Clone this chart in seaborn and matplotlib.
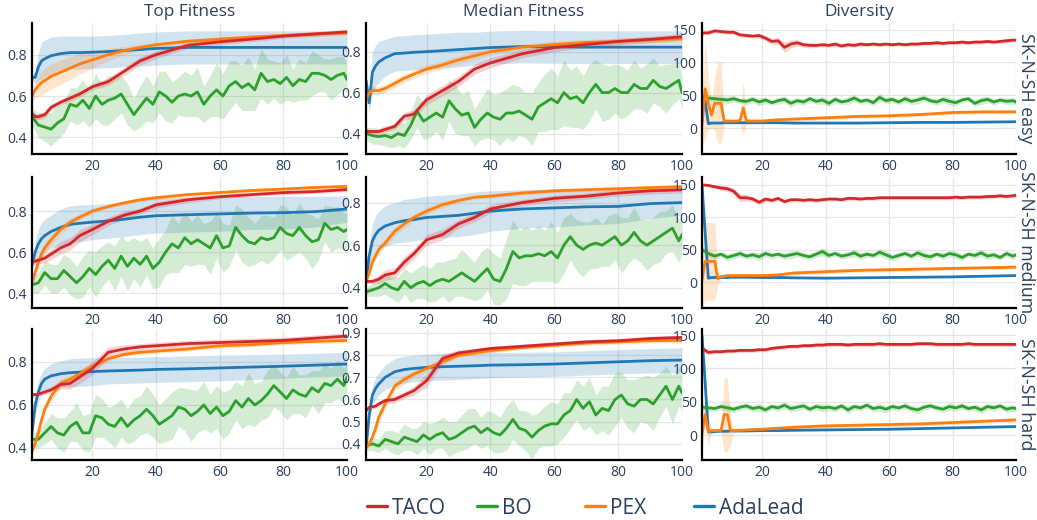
import matplotlib
matplotlib.use("Agg")
import matplotlib.pyplot as plt
import seaborn as sns
import pandas as pd
from matplotlib.lines import Line2D

# ---- labels / categories ----
METRICS = ["Top Fitness", "Median Fitness", "Diversity"]
LEVELS = ["easy", "medium", "hard"]
CELL_LINE = "SK-N-SH"
LEGEND_ORDER = ["TACO", "BO", "PEX", "AdaLead"]
DRAW_ORDER = ["AdaLead", "BO", "PEX", "TACO"]
COLORS = {"TACO": "#d62728", "BO": "#2ca02c", "PEX": "#ff7f0e", "AdaLead": "#1f77b4"}

# generation grids the values were read at
GEN_SMOOTH = [1, 2, 3, 4, 5, 7, 10, 13, 16, 20, 25, 30, 35, 40, 50, 60, 70, 80, 90, 100]
GEN_NOISY = list(range(1, 100, 2)) + [100]
GEN_DIV = [1, 2, 3, 4, 5, 6, 7, 8, 9, 10, 11, 12, 13, 14, 15, 20, 25, 30, 40, 50, 60, 70, 80, 90, 100]

# ---- Top Fitness, easy ----
top_easy_taco = [.515, .50, .50, .505, .51, .545, .57, .59, .61, .645, .67, .72, .77, .80, .845, .862, .875, .89, .90, .91]
top_easy_taco_sd = [.015, .015, .015, .015, .015, .015, .015, .015, .015, .015, .018, .02, .02, .018, .015, .015, .012, .012, .012, .012]
top_easy_pex = [.60, .63, .65, .665, .675, .695, .715, .735, .755, .775, .80, .82, .835, .848, .865, .875, .885, .893, .90, .905]
top_easy_pex_sd = [.03, .04, .05, .055, .06, .06, .06, .055, .05, .04, .03, .02, .015, .01, .01, .01, .01, .01, .01, .01]
top_easy_ada = [.69, .69, .74, .77, .78, .795, .805, .81, .81, .812, .815, .82, .825, .83, .835, .835, .835, .835, .835, .835]
top_easy_ada_sd = [.01, .03, .07, .09, .09, .09, .085, .08, .08, .078, .078, .078, .08, .08, .08, .08, .08, .08, .08, .08]
top_easy_bo = [.50, .46, .45, .44, .47, .49, .56, .55, .58, .54,
               .60, .56, .58, .59, .61, .56, .51, .55, .59, .56,
               .62, .60, .57, .60, .61, .60, .62, .56, .60, .63,
               .60, .65, .67, .64, .66, .63, .71, .67, .68, .66,
               .69, .65, .68, .67, .71, .71, .70, .68, .70, .71, .68]
top_easy_bo_sd = [.04, .06, .07, .08, .08, .07, .08, .09, .10, .09,
                  .11, .10, .12, .10, .09, .10, .08, .10, .11, .09,
                  .10, .12, .10, .09, .11, .10, .12, .09, .10, .13,
                  .11, .12, .10, .11, .13, .10, .12, .11, .09, .10,
                  .11, .08, .10, .09, .11, .09, .08, .10, .09, .08, .07]

# ---- Median Fitness, easy ----
med_easy_taco = [.413, .41, .41, .41, .41, .42, .435, .485, .495, .565, .61, .655, .715, .745, .79, .82, .835, .85, .86, .873]
med_easy_taco_sd = [.01, .01, .01, .01, .01, .012, .015, .02, .02, .025, .025, .025, .025, .025, .02, .02, .015, .015, .015, .015]
med_easy_pex = [.565, .60, .61, .61, .61, .62, .645, .67, .69, .715, .735, .76, .78, .80, .822, .835, .845, .85, .858, .863]
med_easy_pex_sd = [.03, .025, .02, .02, .02, .02, .02, .02, .02, .02, .02, .02, .02, .015, .015, .015, .015, .015, .015, .015]
med_easy_ada = [.66, .55, .70, .73, .75, .77, .79, .793, .797, .80, .805, .81, .815, .82, .825, .823, .822, .822, .822, .822]
med_easy_ada_sd = [.02, .05, .10, .10, .10, .09, .085, .085, .085, .085, .085, .085, .08, .08, .08, .08, .08, .08, .08, .08]
med_easy_bo = [.40, .39, .385, .39, .38, .40, .39, .44, .51, .46,
               .48, .50, .48, .56, .52, .49, .50, .43, .47, .50,
               .48, .47, .50, .50, .51, .49, .47, .53, .55, .57,
               .55, .60, .57, .58, .55, .60, .64, .60, .60, .62,
               .60, .60, .64, .62, .62, .66, .63, .62, .64, .66, .60]
med_easy_bo_sd = [.03, .04, .04, .05, .05, .06, .06, .07, .08, .09,
                  .10, .09, .11, .10, .12, .10, .11, .09, .10, .12,
                  .11, .13, .12, .14, .12, .11, .13, .12, .14, .15,
                  .13, .16, .14, .15, .13, .14, .12, .14, .13, .12,
                  .13, .11, .12, .10, .12, .11, .10, .12, .10, .09, .08]

# ---- Diversity, easy ----
div_easy_taco = [145, 145, 148, 147, 146, 146, 142, 141, 140, 141,
                 137, 132, 133, 123, 128, 130, 127, 126, 126, 127,
                 126, 128, 125, 127, 126, 128, 127, 128, 127, 128,
                 127, 128, 127, 128, 128, 129, 129, 130, 129, 130,
                 130, 131, 130, 131, 131, 132, 131, 132, 133, 134, 134]
div_easy_taco_sd = [3, 3, 3, 3, 3, 3, 3, 3, 3, 4,
                    4, 5, 5, 8, 6, 5, 4, 4, 3, 3,
                    3, 3, 3, 3, 3, 3, 3, 3, 3, 3,
                    3, 3, 3, 3, 3, 3, 3, 3, 3, 3,
                    3, 3, 3, 3, 3, 3, 3, 3, 3, 3, 3]
div_easy_bo = [49, 46, 45, 44, 43, 45, 42, 41, 44, 40,
               43, 39, 42, 44, 38, 42, 40, 45, 41, 43,
               38, 44, 40, 42, 46, 41, 43, 39, 47, 42,
               44, 40, 45, 41, 43, 46, 42, 40, 44, 41,
               39, 43, 45, 38, 42, 44, 40, 43, 41, 42, 40]
div_easy_bo_sd = [5, 5, 4, 5, 6, 5, 4, 5, 5, 6,
                  5, 4, 5, 5, 6, 5, 5, 4, 5, 6,
                  5, 5, 4, 6, 5, 5, 4, 5, 6, 5,
                  5, 4, 5, 5, 6, 5, 4, 5, 5, 6,
                  5, 5, 4, 5, 6, 5, 5, 4, 5, 5, 4]
div_easy_pex = [4, 60, 38, 20, 38, 38, 38, 11, 11, 11, 11, 11, 12, 31, 11, 11, 13, 14, 16, 18, 19, 21, 24, 25, 25]
div_easy_pex_sd = [30, 75, 40, 20, 40, 62, 62, 5, 3, 3, 3, 3, 5, 40, 5, 3, 3, 3, 3, 3, 3, 3, 3, 3, 3]
div_easy_ada = [40, 41, 7, 8, 8, 8, 8, 8.5, 8.5, 8.5, 8.5, 8.5, 8.5, 8.5, 8.5, 8.5, 8.5, 8, 8, 8, 8.5, 9, 9, 9.5, 10]
div_easy_ada_sd = [2, 3, 2, 1, 1, 1, 1, 1, 1, 1, 1, 1, 1, 1, 1, 1, 1, 1, 1, 1, 1, 1, 1, 1, 1]

# ---- Top Fitness, medium ----
top_med_taco = [.555, .555, .56, .565, .57, .59, .62, .64, .68, .71, .75, .78, .80, .83, .855, .87, .88, .89, .895, .905]
top_med_taco_sd = [.015, .015, .015, .02, .02, .025, .03, .03, .03, .025, .02, .02, .015, .015, .015, .01, .01, .01, .01, .01]
top_med_pex = [.455, .50, .55, .59, .62, .66, .71, .745, .77, .80, .822, .84, .855, .865, .88, .89, .90, .907, .915, .92]
top_med_pex_sd = [.02, .03, .03, .03, .03, .025, .02, .02, .015, .01, .01, .01, .01, .01, .01, .01, .01, .01, .01, .01]
top_med_ada = [.54, .60, .64, .665, .68, .70, .72, .735, .74, .746, .752, .76, .77, .777, .782, .786, .79, .792, .797, .81]
top_med_ada_sd = [.02, .05, .07, .08, .08, .08, .09, .09, .09, .085, .085, .085, .085, .085, .085, .085, .08, .08, .075, .065]
top_med_bo = [.44, .45, .50, .47, .47, .51, .48, .45, .48, .52,
              .49, .53, .56, .52, .58, .53, .57, .54, .58, .52,
              .55, .60, .64, .62, .67, .64, .66, .64, .62, .68,
              .62, .63, .72, .68, .65, .64, .67, .66, .67, .72,
              .69, .68, .72, .68, .65, .66, .74, .71, .72, .70, .71]
top_med_bo_sd = [.04, .05, .06, .07, .07, .08, .09, .08, .10, .09,
                 .11, .10, .09, .11, .10, .12, .10, .11, .09, .10,
                 .12, .11, .14, .12, .13, .11, .12, .10, .13, .11,
                 .12, .10, .11, .13, .12, .10, .11, .12, .10, .11,
                 .13, .10, .12, .11, .13, .10, .09, .11, .10, .09, .08]

# ---- Median Fitness, medium ----
med_med_taco = [.43, .43, .43, .435, .44, .46, .47, .52, .56, .625, .65, .70, .73, .77, .80, .82, .83, .845, .855, .86]
med_med_taco_sd = [.01, .01, .012, .015, .02, .025, .025, .025, .025, .025, .025, .02, .02, .02, .015, .015, .015, .015, .015, .015]
med_med_pex = [.43, .47, .52, .55, .58, .61, .665, .70, .73, .76, .79, .81, .825, .83, .845, .855, .86, .865, .87, .875]
med_med_pex_sd = [.01, .02, .02, .02, .02, .02, .02, .02, .015, .015, .015, .01, .01, .01, .01, .01, .01, .01, .01, .01]
med_med_ada = [.43, .55, .62, .65, .67, .69, .705, .715, .72, .73, .735, .74, .75, .76, .77, .775, .78, .782, .795, .80]
med_med_ada_sd = [.02, .05, .08, .09, .09, .095, .095, .10, .10, .10, .10, .10, .10, .095, .09, .09, .085, .08, .07, .06]
med_med_bo = [.38, .39, .40, .42, .40, .39, .43, .40, .42, .43,
              .41, .43, .44, .43, .45, .47, .45, .43, .46, .49,
              .44, .43, .49, .57, .54, .55, .55, .56, .55, .57,
              .54, .60, .64, .60, .58, .60, .61, .60, .62, .64,
              .60, .62, .66, .62, .60, .62, .64, .66, .68, .62, .65]
med_med_bo_sd = [.02, .03, .04, .05, .05, .06, .06, .07, .07, .08,
                 .08, .09, .08, .10, .09, .11, .10, .09, .11, .10,
                 .12, .11, .14, .15, .13, .14, .12, .13, .12, .14,
                 .12, .13, .11, .12, .13, .11, .12, .10, .12, .11,
                 .13, .11, .12, .10, .12, .11, .12, .10, .11, .10, .09]

# ---- Diversity, medium ----
div_med_taco = [150, 149, 147, 145, 144, 140, 130, 130, 128, 123,
                128, 126, 129, 124, 127, 127, 126, 127, 126, 127,
                128, 128, 127, 129, 129, 128, 129, 129, 130, 130,
                130, 130, 130, 130, 130, 130, 130, 130, 130, 130,
                131, 130, 131, 131, 131, 132, 132, 133, 132, 133, 134]
div_med_taco_sd = [2, 2, 3, 4, 4, 5, 6, 5, 4, 4,
                   4, 3, 3, 3, 3, 3, 3, 3, 3, 3,
                   3, 3, 3, 3, 3, 3, 3, 3, 3, 3,
                   3, 3, 3, 3, 3, 3, 3, 3, 3, 3,
                   3, 3, 3, 3, 3, 3, 3, 3, 3, 3, 3]
div_med_bo = [50, 44, 40, 43, 38, 41, 44, 40, 42, 39,
              44, 41, 43, 40, 42, 44, 41, 39, 43, 47,
              41, 44, 40, 42, 45, 40, 43, 41, 46, 42,
              38, 41, 44, 40, 45, 41, 39, 43, 40, 44,
              42, 38, 43, 41, 45, 40, 42, 38, 44, 40, 42]
div_med_bo_sd = [5, 5, 5, 4, 6, 5, 5, 4, 5, 6,
                 5, 5, 4, 5, 6, 5, 4, 5, 5, 6,
                 5, 4, 5, 5, 6, 5, 5, 4, 5, 6,
                 5, 5, 4, 5, 5, 6, 5, 4, 5, 5,
                 6, 5, 4, 5, 5, 6, 5, 4, 5, 5, 4]
div_med_pex = [3, 32, 32, 32, 32, 5, 8, 9, 10, 10, 10, 10, 10, 10, 10, 10, 11, 14, 16, 18, 19, 20, 21, 22, 23]
div_med_pex_sd = [40, 60, 60, 60, 60, 10, 3, 3, 3, 3, 3, 3, 3, 3, 3, 3, 3, 3, 3, 3, 3, 3, 3, 3, 3]
div_med_ada = [150, 75, 6, 7, 7, 7, 7, 7, 7, 7.5, 7.5, 7.5, 7.5, 7.5, 7.5, 7, 7, 6.5, 6, 6.5, 7, 7.5, 8, 9, 10]
div_med_ada_sd = [1, 3, 1, 1, 1, 1, 1, 1, 1, 1, 1, 1, 1, 1, 1, 1, 1, 1, 1, 1, 1, 1, 1, 1, 1]

# ---- Top Fitness, hard ----
top_hard_taco = [.648, .648, .65, .655, .66, .67, .695, .70, .73, .77, .845, .86, .87, .875, .885, .89, .895, .90, .91, .92]
top_hard_taco_sd = [.01, .01, .01, .01, .012, .015, .02, .025, .03, .03, .025, .02, .015, .015, .015, .015, .015, .015, .015, .015]
top_hard_pex = [.385, .42, .47, .53, .58, .64, .70, .72, .745, .78, .815, .835, .845, .85, .86, .875, .88, .89, .895, .90]
top_hard_pex_sd = [.01, .015, .02, .02, .02, .02, .02, .02, .02, .015, .01, .01, .01, .01, .01, .01, .01, .01, .01, .01]
top_hard_ada = [.47, .60, .66, .70, .72, .735, .745, .75, .752, .755, .758, .76, .762, .765, .768, .772, .776, .78, .785, .79]
top_hard_ada_sd = [.02, .04, .05, .05, .05, .055, .06, .065, .065, .065, .06, .06, .06, .06, .06, .06, .058, .056, .055, .055]
top_hard_bo = [.44, .44, .47, .50, .47, .46, .50, .52, .47, .47,
               .55, .54, .51, .50, .54, .50, .53, .55, .58, .55,
               .51, .53, .55, .59, .58, .55, .57, .60, .56, .59,
               .55, .57, .62, .59, .63, .60, .62, .65, .69, .66,
               .63, .67, .65, .64, .68, .66, .70, .69, .72, .69, .73]
top_hard_bo_sd = [.03, .04, .05, .06, .07, .08, .07, .09, .08, .09,
                  .10, .09, .08, .10, .09, .08, .10, .09, .11, .10,
                  .09, .10, .11, .09, .10, .12, .10, .11, .09, .10,
                  .11, .10, .09, .10, .12, .10, .09, .11, .10, .09,
                  .10, .11, .09, .10, .08, .10, .09, .08, .09, .08, .07]

# ---- Median Fitness, hard ----
med_hard_taco = [.55, .565, .567, .57, .58, .595, .60, .62, .64, .685, .785, .81, .82, .83, .84, .85, .86, .865, .875, .88]
med_hard_taco_sd = [.01, .01, .01, .01, .01, .012, .015, .015, .02, .03, .02, .015, .01, .01, .01, .01, .01, .01, .01, .01]
med_hard_pex = [.38, .40, .43, .47, .52, .58, .66, .69, .715, .74, .77, .80, .81, .82, .835, .845, .855, .86, .865, .867]
med_hard_pex_sd = [.01, .01, .015, .02, .02, .02, .02, .02, .015, .015, .015, .01, .01, .01, .01, .01, .01, .01, .01, .01]
med_hard_ada = [.38, .53, .62, .65, .67, .70, .725, .735, .74, .745, .748, .75, .752, .755, .757, .76, .765, .77, .775, .778]
med_hard_ada_sd = [.01, .03, .04, .05, .05, .055, .06, .06, .06, .06, .06, .06, .058, .057, .056, .055, .055, .055, .055, .055]
med_hard_bo = [.39, .40, .39, .42, .41, .40, .43, .42, .41, .44,
               .42, .44, .45, .42, .43, .45, .47, .48, .45, .47,
               .45, .44, .47, .51, .47, .46, .43, .46, .48, .49,
               .49, .53, .55, .60, .56, .59, .53, .56, .55, .60,
               .62, .58, .57, .60, .60, .58, .62, .66, .60, .66, .63]
med_hard_bo_sd = [.02, .03, .03, .04, .05, .05, .06, .05, .06, .06,
                  .07, .06, .07, .08, .07, .08, .09, .08, .07, .08,
                  .09, .08, .10, .09, .08, .09, .10, .08, .09, .10,
                  .09, .10, .08, .09, .10, .11, .09, .10, .11, .12,
                  .10, .11, .12, .10, .11, .12, .10, .09, .11, .09, .08]

# ---- Diversity, hard ----
div_hard_taco = [130, 124, 125, 125, 126, 126, 127, 127, 127, 128,
                 128, 130, 131, 132, 133, 133, 134, 134, 135, 135,
                 136, 136, 136, 135, 136, 136, 136, 136, 137, 136,
                 136, 136, 136, 136, 137, 137, 137, 136, 136, 136,
                 136, 136, 137, 136, 136, 136, 136, 136, 136, 136, 136]
div_hard_taco_sd = [4, 4, 3, 3, 3, 3, 3, 3, 3, 3,
                    3, 3, 3, 3, 3, 3, 3, 3, 3, 3,
                    3, 3, 3, 3, 3, 3, 3, 3, 3, 3,
                    3, 3, 3, 3, 3, 3, 3, 3, 3, 3,
                    3, 3, 3, 3, 3, 3, 3, 3, 3, 3, 3]
div_hard_bo = [42, 41, 40, 43, 41, 39, 42, 44, 40, 42,
               38, 43, 41, 45, 40, 42, 44, 39, 43, 41,
               42, 40, 44, 38, 43, 41, 45, 40, 42, 39,
               43, 41, 44, 40, 38, 42, 44, 41, 39, 43,
               41, 44, 40, 42, 38, 43, 41, 44, 39, 41, 40]
div_hard_bo_sd = [5, 5, 4, 5, 6, 5, 5, 4, 5, 6,
                  5, 4, 5, 5, 6, 5, 5, 4, 5, 6,
                  5, 5, 4, 6, 5, 5, 4, 5, 6, 5,
                  5, 4, 5, 5, 6, 5, 4, 5, 5, 6,
                  5, 5, 4, 5, 6, 5, 5, 4, 5, 5, 4]
div_hard_pex = [2.5, 31, 5, 7, 7, 7, 7, 31, 31, 7, 7, 7, 7.5, 7.5, 8, 9, 10.5, 12, 14, 15, 16, 17, 19, 21, 23]
div_hard_pex_sd = [25, 15, 20, 3, 3, 3, 3, 55, 55, 20, 3, 3, 3, 3, 3, 3, 3, 3, 3, 3, 3, 3, 3, 3, 3]
div_hard_ada = [150, 78, 5, 5, 5.5, 6, 6, 6, 6, 6.5, 6.5, 6.5, 6.5, 6.5, 6.5, 7, 7, 7.5, 8, 8.5, 9, 10, 11, 12, 13]
div_hard_ada_sd = [1, 3, 1, 1, 1, 1, 1, 1, 1, 1, 1, 1, 1, 1, 1, 1, 1, 1, 1, 1, 1, 1, 1, 1, 1]

SERIES = {
    ("Top Fitness", "easy"): {"TACO": (top_easy_taco, top_easy_taco_sd), "BO": (top_easy_bo, top_easy_bo_sd),
                              "PEX": (top_easy_pex, top_easy_pex_sd), "AdaLead": (top_easy_ada, top_easy_ada_sd)},
    ("Median Fitness", "easy"): {"TACO": (med_easy_taco, med_easy_taco_sd), "BO": (med_easy_bo, med_easy_bo_sd),
                                 "PEX": (med_easy_pex, med_easy_pex_sd), "AdaLead": (med_easy_ada, med_easy_ada_sd)},
    ("Diversity", "easy"): {"TACO": (div_easy_taco, div_easy_taco_sd), "BO": (div_easy_bo, div_easy_bo_sd),
                            "PEX": (div_easy_pex, div_easy_pex_sd), "AdaLead": (div_easy_ada, div_easy_ada_sd)},
    ("Top Fitness", "medium"): {"TACO": (top_med_taco, top_med_taco_sd), "BO": (top_med_bo, top_med_bo_sd),
                                "PEX": (top_med_pex, top_med_pex_sd), "AdaLead": (top_med_ada, top_med_ada_sd)},
    ("Median Fitness", "medium"): {"TACO": (med_med_taco, med_med_taco_sd), "BO": (med_med_bo, med_med_bo_sd),
                                   "PEX": (med_med_pex, med_med_pex_sd), "AdaLead": (med_med_ada, med_med_ada_sd)},
    ("Diversity", "medium"): {"TACO": (div_med_taco, div_med_taco_sd), "BO": (div_med_bo, div_med_bo_sd),
                              "PEX": (div_med_pex, div_med_pex_sd), "AdaLead": (div_med_ada, div_med_ada_sd)},
    ("Top Fitness", "hard"): {"TACO": (top_hard_taco, top_hard_taco_sd), "BO": (top_hard_bo, top_hard_bo_sd),
                              "PEX": (top_hard_pex, top_hard_pex_sd), "AdaLead": (top_hard_ada, top_hard_ada_sd)},
    ("Median Fitness", "hard"): {"TACO": (med_hard_taco, med_hard_taco_sd), "BO": (med_hard_bo, med_hard_bo_sd),
                                 "PEX": (med_hard_pex, med_hard_pex_sd), "AdaLead": (med_hard_ada, med_hard_ada_sd)},
    ("Diversity", "hard"): {"TACO": (div_hard_taco, div_hard_taco_sd), "BO": (div_hard_bo, div_hard_bo_sd),
                            "PEX": (div_hard_pex, div_hard_pex_sd), "AdaLead": (div_hard_ada, div_hard_ada_sd)},
}


def gens_for(metric, method):
    if method == "BO":
        return GEN_NOISY
    if metric == "Diversity":
        return GEN_NOISY if method == "TACO" else GEN_DIV
    return GEN_SMOOTH


# ---- layout (pixel boxes of the plotly-style subplots) ----
W, H = 1037, 520
COL_PX = [(32, 347), (366, 682), (702, 1016)]
ROW_PX = [(23, 154), (177, 308), (329, 460)]
YLIMS = [[(0.32, 0.953), (0.30, 0.94), (-39, 160)],
         [(0.327, 0.966), (0.305, 0.92), (-40, 162)],
         [(0.344, 0.953), (0.327, 0.918), (-37, 159)]]
FIT_TICKS = [0.4, 0.6, 0.8]
YTICKS = [[FIT_TICKS, FIT_TICKS, [0, 50, 100, 150]],
          [FIT_TICKS, FIT_TICKS, [0, 50, 100, 150]],
          [FIT_TICKS, [0.4, 0.5, 0.6, 0.7, 0.8, 0.9], [0, 50, 100, 150]]]
TXT = "#2a3f5f"

sns.set_theme(style="white")
plt.rcParams["font.family"] = ["Open Sans", "DejaVu Sans"]

fig = plt.figure(figsize=(W / 100, H / 100), dpi=100)

for r, level in enumerate(LEVELS):
    top, bot = ROW_PX[r]
    for c, metric in enumerate(METRICS):
        left, right = COL_PX[c]
        ax = fig.add_axes([left / W, 1 - bot / H, (right - left) / W, (bot - top) / H])
        panel = SERIES[(metric, level)]

        frames = []
        for method in DRAW_ORDER:
            mean, sd = panel[method]
            gens = gens_for(metric, method)
            assert len(gens) == len(mean) == len(sd), (metric, level, method)
            lo = [m - s for m, s in zip(mean, sd)]
            hi = [m + s for m, s in zip(mean, sd)]
            ax.fill_between(gens, lo, hi, color=COLORS[method], alpha=0.2, lw=0)
            frames.append(pd.DataFrame({"gen": gens, "value": mean, "method": method}))
        df = pd.concat(frames, ignore_index=True)
        sns.lineplot(data=df, x="gen", y="value", hue="method", hue_order=DRAW_ORDER,
                     palette=COLORS, lw=2.0, estimator=None, legend=False, ax=ax)

        ax.set_xlim(1, 100)
        ax.set_ylim(*YLIMS[r][c])
        ax.set_xticks([20, 40, 60, 80, 100])
        ax.set_yticks(YTICKS[r][c])
        ax.set_xlabel("")
        ax.set_ylabel("")
        ax.grid(True, color="#e6e6e6", lw=0.9)
        ax.set_axisbelow(True)
        for s in ["top", "right"]:
            ax.spines[s].set_visible(False)
        for s in ["left", "bottom"]:
            ax.spines[s].set_color("black")
            ax.spines[s].set_linewidth(1.6)
        ax.tick_params(length=0, labelsize=10, labelcolor=TXT, pad=3.5)

# column titles
for c, metric in enumerate(METRICS):
    left, right = COL_PX[c]
    fig.text((left + right) / 2 / W, 1 - 12 / H, metric, ha="center", va="center",
             fontsize=12.4, color=TXT)

# row labels on the right
for r, level in enumerate(LEVELS):
    top, bot = ROW_PX[r]
    fig.text(1026 / W, 1 - (top + bot) / 2 / H, f"{CELL_LINE} {level}", rotation=-90,
             ha="center", va="center", fontsize=12.8, color=TXT)

# legend along the bottom
LEGEND_X = [367, 477, 585, 694]
for name, x0 in zip(LEGEND_ORDER, LEGEND_X):
    fig.legend(handles=[Line2D([], [], color=COLORS[name], lw=2.4)], labels=[name],
               loc="center left", bbox_to_anchor=(x0 / W, 1 - 508 / H), frameon=False,
               handlelength=0.95, handletextpad=0.25, borderpad=0, borderaxespad=0,
               fontsize=15, labelcolor=TXT)

fig.savefig("out.png", dpi=100)
